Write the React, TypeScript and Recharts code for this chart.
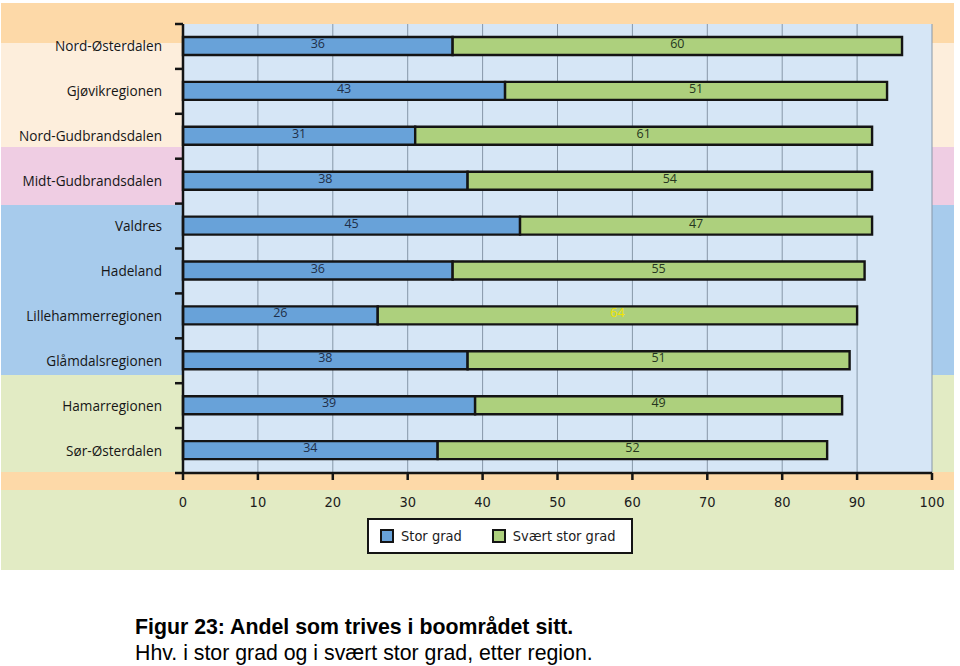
import { BarChart, Bar, XAxis, YAxis, CartesianGrid, Legend, LabelList } from "recharts";

const regions = [
  "Nord-Østerdalen",
  "Gjøvikregionen",
  "Nord-Gudbrandsdalen",
  "Midt-Gudbrandsdalen",
  "Valdres",
  "Hadeland",
  "Lillehammerregionen",
  "Glåmdalsregionen",
  "Hamarregionen",
  "Sør-Østerdalen",
];
const storGrad = [36, 43, 31, 38, 45, 36, 26, 38, 39, 34];
const sværtStorGrad = [60, 51, 61, 54, 47, 55, 64, 51, 49, 52];
const xTicks = [0, 10, 20, 30, 40, 50, 60, 70, 80, 90, 100];

const seriesNames = { stor: "Stor grad", svaert: "Svært stor grad" };
const highlightRegion = "Lillehammerregionen";

const data = regions.map((region, i) => ({
  region,
  stor: storGrad[i],
  svaert: sværtStorGrad[i],
}));

const BLUE = "#68a2d9";
const GREEN = "#add07d";
const INK = "#141414";
const LABEL_FONT = "'Open Sans', 'DejaVu Sans', sans-serif";
const COND_FONT = "'DejaVu Sans Condensed', 'Liberation Sans Narrow', 'Open Sans', sans-serif";

const Y_TICK_SIZE = 8;
const Y_TICK_MARGIN = 13;

const bands =
  "linear-gradient(to bottom," +
  " #fdd9a8 0px 40px," +
  " #fdeedc 40px 144px," +
  " #efcde3 144px 202px," +
  " #a7cbec 202px 372px," +
  " #e2ebc4 372px 469px," +
  " #fdd9a8 469px 487px," +
  " #e2ebc4 487px 567px)";

// label at the band centre, tick marks at the band edges
function RegionTick(props: any) {
  const { x, y, payload, index, height, visibleTicksCount } = props;
  const half = height / visibleTicksCount / 2;
  const axisX = x + Y_TICK_SIZE + Y_TICK_MARGIN;
  const last = index === visibleTicksCount - 1;
  return (
    <g>
      <line x1={axisX - Y_TICK_SIZE} x2={axisX} y1={y - half} y2={y - half} stroke={INK} strokeWidth={2.5} />
      {last && (
        <line x1={axisX - Y_TICK_SIZE} x2={axisX} y1={y + half} y2={y + half} stroke={INK} strokeWidth={2.5} />
      )}
      <text
        x={x}
        y={y}
        dy={5}
        textAnchor="end"
        fontFamily={LABEL_FONT}
        fontSize={13.6}
        fill="#161616"
      >
        {payload.value}
      </text>
    </g>
  );
}

function BarValue(props: any) {
  const { x, y, width, height, value, index, color } = props;
  const isHighlight = regions[index] === highlightRegion && props.series === "svaert";
  return (
    <text
      x={x + width / 2}
      y={y + height / 2}
      dy={2}
      textAnchor="middle"
      fontFamily={LABEL_FONT}
      fontSize={12.5}
      fill={isHighlight ? "#f2e600" : color}
    >
      {value}
    </text>
  );
}

function LegendBox() {
  const swatch = (c: string) => (
    <span
      style={{
        display: "inline-block",
        width: 10,
        height: 10,
        border: `2px solid ${INK}`,
        background: c,
        marginRight: 7,
      }}
    />
  );
  return (
    <div
      style={{
        boxSizing: "border-box",
        width: 266,
        height: 36,
        border: `2px solid ${INK}`,
        background: "#fff",
        display: "flex",
        alignItems: "center",
        paddingLeft: 11,
        fontFamily: COND_FONT,
        fontSize: 14.5,
        color: "#1c1c1c",
      }}
    >
      <span style={{ display: "flex", alignItems: "center", marginRight: 30 }}>
        {swatch(BLUE)}
        {seriesNames.stor}
      </span>
      <span style={{ display: "flex", alignItems: "center" }}>
        {swatch(GREEN)}
        {seriesNames.svaert}
      </span>
    </div>
  );
}

export default function App() {
  return (
    <div style={{ position: "absolute", left: 0, top: 0, width: 960, height: 666, background: "#fff" }}>
      <div
        style={{
          position: "absolute",
          left: 1,
          top: 3,
          width: 953,
          height: 567,
          background: bands,
        }}
      />
      <div style={{ position: "absolute", left: 0, top: 0 }}>
        <BarChart
          width={960}
          height={570}
          data={data}
          layout="vertical"
          margin={{ top: 24, right: 28, left: 0, bottom: 16 }}
        >
          <CartesianGrid
            horizontal={false}
            stroke="#8797a8"
            strokeWidth={1}
            fill="#d6e6f6"
            fillOpacity={1}
          />
          <XAxis
            type="number"
            domain={[0, 100]}
            ticks={xTicks}
            interval={0}
            height={45}
            axisLine={{ stroke: INK, strokeWidth: 2.5 }}
            tickLine={{ stroke: INK, strokeWidth: 2.5 }}
            tickSize={7}
            tickMargin={17}
            tick={{ fontFamily: COND_FONT, fontSize: 14.5, fill: "#1c1c1c" }}
          />
          <YAxis
            type="category"
            dataKey="region"
            width={183}
            interval={0}
            tickLine={false}
            tickSize={Y_TICK_SIZE}
            tickMargin={Y_TICK_MARGIN}
            axisLine={{ stroke: INK, strokeWidth: 2.5 }}
            tick={<RegionTick />}
          />
          <Legend
            verticalAlign="bottom"
            align="left"
            wrapperStyle={{ left: 367, width: 266 }}
            content={<LegendBox />}
          />
          <Bar
            dataKey="stor"
            name={seriesNames.stor}
            stackId="a"
            fill={BLUE}
            stroke={INK}
            strokeWidth={2.4}
            barSize={18}
            isAnimationActive={false}
          >
            <LabelList dataKey="stor" content={<BarValue series="stor" color="#1f2f48" />} />
          </Bar>
          <Bar
            dataKey="svaert"
            name={seriesNames.svaert}
            stackId="a"
            fill={GREEN}
            stroke={INK}
            strokeWidth={2.4}
            barSize={18}
            isAnimationActive={false}
          >
            <LabelList dataKey="svaert" content={<BarValue series="svaert" color="#263620" />} />
          </Bar>
        </BarChart>
      </div>
      <div
        style={{
          position: "absolute",
          left: 135,
          top: 614,
          fontFamily: "'Liberation Sans', Arial, sans-serif",
          fontSize: 21.3,
          lineHeight: "26px",
          color: "#000",
          whiteSpace: "nowrap",
        }}
      >
        <div style={{ fontWeight: "bold" }}>Figur 23: Andel som trives i boområdet sitt.</div>
        <div>Hhv. i stor grad og i svært stor grad, etter region.</div>
      </div>
    </div>
  );
}
